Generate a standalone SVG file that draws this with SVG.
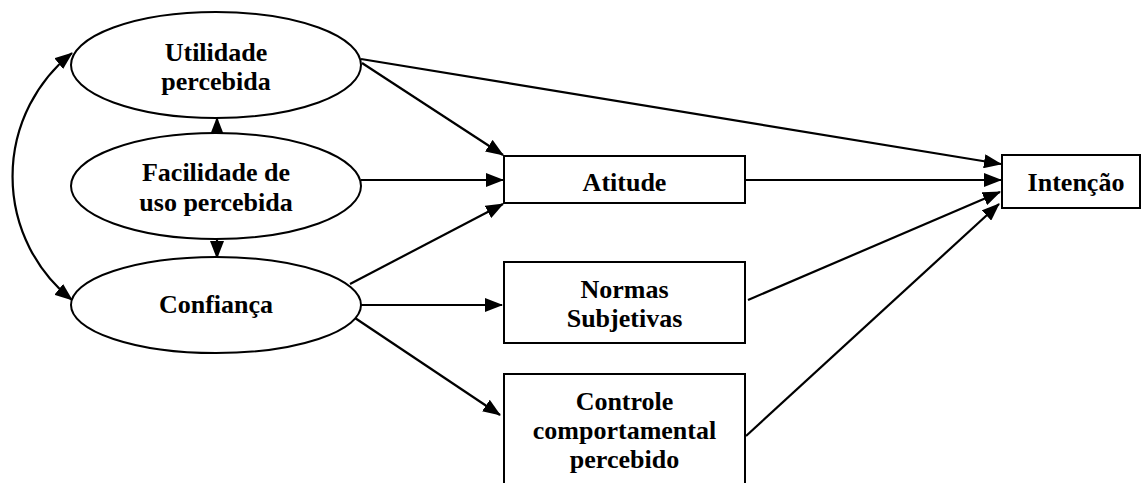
<svg xmlns="http://www.w3.org/2000/svg" width="1141" height="483" viewBox="0 0 1141 483">
<style>
.n{fill:#fff;stroke:#000;stroke-width:2}
text{font-family:'Liberation Serif','DejaVu Serif',serif;font-weight:bold;font-size:26px;fill:#000;text-anchor:middle}
.c{fill:none;stroke:#000;stroke-width:2.2}
</style>
<defs>
<marker id="ah" viewBox="0 0 18 14" refX="17" refY="7" markerWidth="18" markerHeight="14" markerUnits="userSpaceOnUse" orient="auto-start-reverse">
<path d="M0,0 L18,7 L0,14 z" fill="#000"/>
</marker>
</defs>
<rect width="1141" height="483" fill="#fff"/>
<g id="connectors">
<path class="c" d="M72,53 A158,158 0 0 0 72,300" marker-start="url(#ah)" marker-end="url(#ah)"/>
<line class="c" x1="217" y1="134" x2="217" y2="118" marker-end="url(#ah)"/>
<line class="c" x1="217" y1="239" x2="217" y2="258" marker-end="url(#ah)"/>
<line class="c" x1="361" y1="59" x2="1001" y2="164" marker-end="url(#ah)"/>
<line class="c" x1="362" y1="63" x2="503" y2="155" marker-end="url(#ah)"/>
<line class="c" x1="361" y1="180" x2="503" y2="180" marker-end="url(#ah)"/>
<line class="c" x1="350" y1="284" x2="503" y2="204" marker-end="url(#ah)"/>
<line class="c" x1="361" y1="305" x2="502" y2="305" marker-end="url(#ah)"/>
<line class="c" x1="355" y1="318" x2="500" y2="415" marker-end="url(#ah)"/>
<line class="c" x1="745" y1="180" x2="1001" y2="180" marker-end="url(#ah)"/>
<line class="c" x1="748" y1="300" x2="1000" y2="192" marker-end="url(#ah)"/>
<line class="c" x1="746" y1="436" x2="999" y2="204" marker-end="url(#ah)"/>
</g>
<g id="utilidade">
<ellipse class="n" cx="216" cy="65" rx="145" ry="53"/>
<text x="216" y="61">Utilidade</text>
<text x="216" y="90">percebida</text>
</g>
<g id="facilidade">
<ellipse class="n" cx="216" cy="186" rx="145" ry="53"/>
<text x="216" y="181">Facilidade de</text>
<text x="216" y="211">uso percebida</text>
</g>
<g id="confianca">
<ellipse class="n" cx="216" cy="305" rx="145" ry="48"/>
<text x="216" y="313">Confiança</text>
</g>
<g id="atitude">
<rect class="n" x="504" y="156" width="241" height="47"/>
<text x="624.5" y="191">Atitude</text>
</g>
<g id="normas">
<rect class="n" x="504" y="262" width="241" height="81"/>
<text x="624.5" y="298">Normas</text>
<text x="624.5" y="327">Subjetivas</text>
</g>
<g id="controle">
<rect class="n" x="504" y="374" width="241" height="130"/>
<text x="624.5" y="410">Controle</text>
<text x="624.5" y="439">comportamental</text>
<text x="624.5" y="468">percebido</text>
</g>
<g id="intencao">
<rect class="n" x="1002" y="155" width="138" height="53"/>
<text x="1076" y="191">Intenção</text>
</g>
</svg>
